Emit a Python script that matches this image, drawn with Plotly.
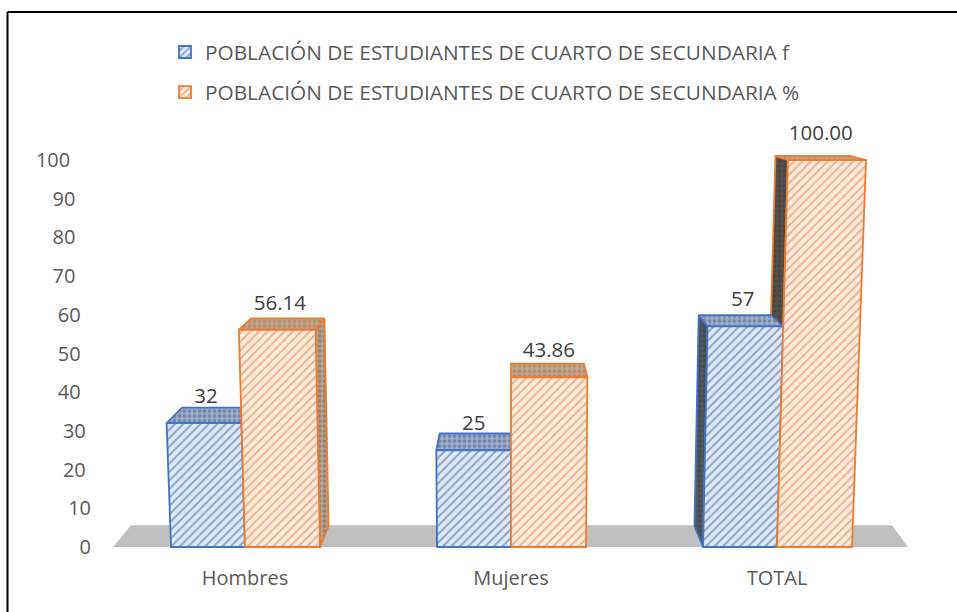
import plotly.graph_objects as go

categories = ["Hombres", "Mujeres", "TOTAL"]
series_names = ["POBLACIÓN DE ESTUDIANTES DE CUARTO DE SECUNDARIA f",
                "POBLACIÓN DE ESTUDIANTES DE CUARTO DE SECUNDARIA %"]
values_f = [32, 25, 57]
values_pct = [56.14, 43.86, 100.00]
labels_f = ["32", "25", "57"]
labels_pct = ["56.14", "43.86", "100.00"]
y_ticks = list(range(0, 101, 10))

W, H = 957, 612
BLUE, ORANGE = "#4472C4", "#ED7D31"
TXT = "#404040"
AXIS_TXT = "#595959"
FONT = "Open Sans"
# x data unit = 266 px, y data unit = 3.87 px
L_OFF, MID, R_OFF = -0.278, 0.0, 0.282


def pt(x0, v, d=0.0):
    """Project a (category x, value, depth) corner with the perspective of the 3D bars."""
    x = 1 + (x0 - 1) * (1 + 4.1e-4 * v) * (1 - 0.045 * d)
    y = v + d * (5.43 - 0.044 * v)
    return x, y


def poly(corners):
    p = [pt(*c) for c in corners] + [pt(*corners[0])]
    return [a for a, _ in p], [b for _, b in p]


def face(corners, line, bg, fg, shape, size, sol):
    xs, ys = poly(corners)
    return go.Scatter(x=xs, y=ys, mode="lines", fill="toself", showlegend=False, hoverinfo="skip",
                      line=dict(color=line, width=1.8),
                      fillcolor=bg,
                      fillpattern=dict(shape=shape, bgcolor=bg, fgcolor=fg, size=size, solidity=sol))


HATCH_B = ("#E1E9F6", "#3A62AE")
HATCH_O = ("#FDEBDF", "#E57A35")
fig = go.Figure()
fig.add_trace(go.Bar(x=[0, 1, 2], y=values_f, name=series_names[0], width=-L_OFF, offset=L_OFF,
                     marker=dict(color=HATCH_B[0], line=dict(color=BLUE, width=1.8),
                                 pattern=dict(shape="/", bgcolor=HATCH_B[0], fgcolor=HATCH_B[1], size=6, solidity=0.36)),
                     legendgroup="a"))
fig.add_trace(go.Bar(x=[0, 1, 2], y=values_pct, name=series_names[1], width=R_OFF, offset=MID,
                     marker=dict(color=HATCH_O[0], line=dict(color=ORANGE, width=1.8),
                                 pattern=dict(shape="/", bgcolor=HATCH_O[0], fgcolor=HATCH_O[1], size=6, solidity=0.36)),
                     legendgroup="b"))

TOP_B = ("#A3AEC4", "#3F5F9E")
TOP_O = ("#B9A999", "#C0703A")
for i in range(3):
    vf, vp = values_f[i], values_pct[i]
    b0, b1 = i + L_OFF, i + MID
    o0, o1 = i + MID, i + R_OFF
    # orange side faces
    if i == 0:
        fig.add_trace(face([(o1, 0), (o1, 0, 1), (o1, vp, 1), (o1, vp)], ORANGE, "#B0A79E", "#8E5A33", ".", 5, 0.5))
    if i == 2:
        fig.add_trace(face([(o0, 0), (o0, 0, 1), (o0, vp, 1), (o0, vp)], ORANGE, "#55504C", "#3F3A36", ".", 5, 0.5))
    fig.add_trace(face([(o0, vp), (o0, vp, 1), (o1, vp, 1), (o1, vp)], ORANGE, TOP_O[0], TOP_O[1], ".", 5, 0.45))
    # blue side and top faces
    if i == 2:
        fig.add_trace(face([(b0, 0), (b0, 0, 1), (b0, vf, 1), (b0, vf)], BLUE, "#55585E", "#3A3D44", ".", 5, 0.5))
    fig.add_trace(face([(b0, vf), (b0, vf, 1), (b1, vf, 1), (b1, vf)], BLUE, TOP_B[0], TOP_B[1], ".", 5, 0.45))
    # front faces
    fig.add_trace(face([(b0, 0), (b0, vf), (b1, vf), (b1, 0)], BLUE, HATCH_B[0], HATCH_B[1], "/", 6, 0.36))
    fig.add_trace(face([(o0, 0), (o0, vp), (o1, vp), (o1, 0)], ORANGE, HATCH_O[0], HATCH_O[1], "/", 6, 0.36))

lx, ly, lt = [], [], []
for i in range(3):
    for v, lab, c in ((values_f[i], labels_f[i], i + (L_OFF + MID) / 2),
                      (values_pct[i], labels_pct[i], i + (MID + R_OFF) / 2)):
        x, _ = pt(c, v * 0.5)
        lx.append(x)
        ly.append(v + 6.5)
        lt.append(lab)
fig.add_trace(go.Scatter(x=lx, y=ly, text=lt, mode="text", showlegend=False, hoverinfo="skip",
                         textposition="middle center", textfont=dict(family=FONT, size=20.5, color=TXT)))

# grey floor of the 3D plot
fig.add_shape(type="path", xref="x", yref="y", layer="below",
              path="M -0.4962 0 L -0.4286 5.6 L 2.432 5.6 L 2.4925 0 Z",
              fillcolor="#BFBFBF", line=dict(width=0))
# only the top and left edges of the picture's frame are visible
fig.add_shape(type="line", xref="paper", yref="paper", x0=7.5 / W, x1=1, y0=1 - 12 / H, y1=1 - 12 / H,
              line=dict(color="black", width=2))
fig.add_shape(type="line", xref="paper", yref="paper", x0=7.5 / W, x1=7.5 / W, y0=0, y1=1 - 12 / H,
              line=dict(color="black", width=2))

# the tick labels lean with the 3D perspective: pad the higher ones to the right
tick_text = [str(t) + "\u00a0" * round(0.2 * t / 5.2) for t in y_ticks]

y_bot, y_top = 547 + 5 * 3.87, 547 - 112 * 3.87
fig.update_layout(
    width=W, height=H, margin=dict(l=0, r=0, t=0, b=0), paper_bgcolor="white", plot_bgcolor="rgba(0,0,0,0)",
    barmode="overlay", font=dict(family=FONT, size=20, color=AXIS_TXT),
    legend=dict(x=165 / W, y=1 - 32 / H, xanchor="left", yanchor="top", traceorder="grouped",
                tracegroupgap=10, font=dict(family=FONT, size=20.8, color=AXIS_TXT),
                bgcolor="rgba(0,0,0,0)", itemwidth=30),
    xaxis=dict(domain=[112 / W, 910 / W], range=[-0.5, 2.5], tickmode="array", tickvals=[0, 1, 2],
               ticktext=categories, showgrid=False, zeroline=False, showline=False, ticks="",
               ticklabelstandoff=-2),
    yaxis=dict(domain=[1 - y_bot / H, 1 - y_top / H], range=[-5, 112], tickmode="array", tickvals=y_ticks,
               ticktext=tick_text, showgrid=False, zeroline=False, showline=False, ticks="", ticklabelstandoff=20),
)
fig.write_html("out.html", config={"displayModeBar": False},
               post_script="document.body.style.margin='0';document.documentElement.style.overflow='hidden';")
